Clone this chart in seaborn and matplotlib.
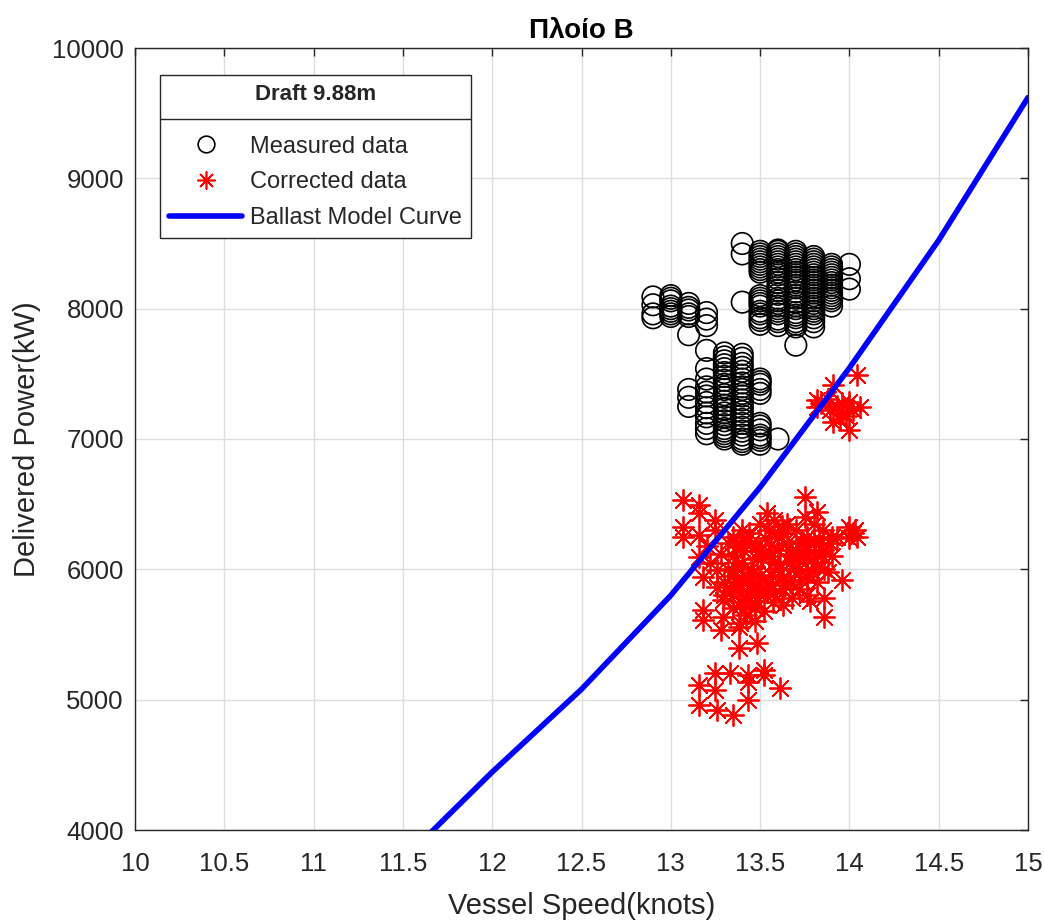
import matplotlib
matplotlib.use("Agg")
import matplotlib.pyplot as plt
from matplotlib.lines import Line2D
import seaborn as sns

# Ballast model curve
model_speed = [11.5, 12.0, 12.5, 13.0, 13.5, 14.0, 14.5, 15.0]
model_power = [3770, 4445, 5080, 5800, 6630, 7545, 8525, 9620]

# Measured data, grouped by speed column
measured_speed = (
    [12.9] * 4 + [13.0] * 5 + [13.1] * 4 + [13.2] * 3
    + [13.4] * 3 + [13.5] * 11 + [13.6] * 14 + [13.7] * 15
    + [13.8] * 14 + [13.9] * 9 + [14.0] * 3
    + [13.1] * 3 + [13.2] * 8 + [13.3] * 13 + [13.4] * 13
    + [13.5] * 9 + [13.6] * 1
    # second pass of the denser columns
    + [13.0] * 3 + [13.1] * 2
    + [13.5] * 8 + [13.6] * 12 + [13.7] * 13 + [13.8] * 12 + [13.9] * 7
    + [13.2] * 5 + [13.3] * 12 + [13.4] * 12 + [13.5] * 3
)
measured_power = (
    [8090, 8030, 7960, 7930]
    + [8100, 8060, 8020, 7980, 7960]
    + [8040, 7990, 7960, 7800]
    + [7970, 7920, 7870]
    + [8500, 8420, 8050]
    + [8440, 8400, 8360, 8320, 8280, 8100, 8060, 8020, 7980, 7930, 7880]
    + [8450, 8420, 8380, 8340, 8300, 8260, 8200, 8140, 8080, 8040, 8000, 7960, 7920, 7870]
    + [8440, 8400, 8360, 8320, 8280, 8240, 8200, 8160, 8100, 8050, 8000, 7950, 7900, 7860, 7720]
    + [8400, 8360, 8320, 8280, 8240, 8200, 8160, 8120, 8080, 8040, 8000, 7960, 7900, 7860]
    + [8340, 8300, 8260, 8220, 8180, 8140, 8100, 8060, 8020]
    + [8340, 8230, 8150]
    + [7380, 7320, 7250]
    + [7680, 7540, 7400, 7330, 7240, 7170, 7080, 7040]
    + [7660, 7600, 7540, 7480, 7420, 7380, 7320, 7260, 7200, 7140, 7080, 7040, 7000]
    + [7650, 7580, 7520, 7460, 7400, 7350, 7300, 7240, 7180, 7120, 7060, 7000, 6960]
    + [7460, 7420, 7380, 7350, 7120, 7070, 7030, 6990, 6960]
    + [7000]
    + [8080, 8000, 7940]
    + [8010, 7940]
    + [8420, 8380, 8340, 8300, 8080, 8040, 7960, 7910]
    + [8440, 8400, 8360, 8320, 8280, 8230, 8170, 8110, 8060, 8020, 7980, 7900]
    + [8420, 8380, 8340, 8300, 8260, 8220, 8180, 8130, 8080, 8020, 7970, 7930, 7880]
    + [8380, 8340, 8300, 8260, 8220, 8180, 8140, 8100, 8060, 8020, 7980, 7930]
    + [8320, 8280, 8240, 8200, 8160, 8120, 8080]
    + [7460, 7360, 7280, 7200, 7120]
    + [7630, 7570, 7510, 7450, 7400, 7340, 7290, 7230, 7170, 7110, 7060, 7020]
    + [7620, 7550, 7490, 7430, 7380, 7330, 7270, 7210, 7150, 7090, 7030, 6980]
    + [7440, 7100, 7010]
)

# Corrected data
corrected_speed = [
    14.04, 13.91, 13.82, 13.82, 13.89, 13.91, 14.00, 14.02, 14.00, 13.96, 13.96, 14.06,
    13.84, 13.88, 13.93, 13.98, 13.95,
    13.07, 13.16, 13.16, 13.07, 13.07, 13.25, 13.25, 13.16, 13.16, 13.18, 13.26, 13.26,
    13.18, 13.18, 13.29, 13.29, 13.39, 13.39, 13.44, 13.20, 13.22, 13.28,
    13.35, 13.35, 13.35, 13.35, 13.35,
    13.40, 13.40, 13.40, 13.40, 13.42,
    13.45, 13.45, 13.45, 13.47, 13.47,
    13.50, 13.50, 13.50, 13.50, 13.52,
    13.55, 13.55, 13.55, 13.57,
    13.60, 13.60, 13.60, 13.62, 13.63,
    13.65, 13.65, 13.67, 13.67,
    13.70, 13.70, 13.72, 13.72,
    13.75, 13.75, 13.76, 13.76, 13.76, 13.76,
    13.80, 13.80, 13.80, 13.82, 13.82,
    13.85, 13.85, 13.86, 13.86, 13.86,
    13.90, 13.90, 13.93, 13.96, 14.00, 14.00, 14.02, 14.04, 14.03,
    13.54, 13.58, 13.62, 13.32, 13.32, 13.30, 13.30,
    13.37, 13.42, 13.48, 13.53, 13.58, 13.63, 13.68, 13.73, 13.78, 13.83,
    13.38, 13.43, 13.48, 13.53, 13.58, 13.63, 13.68, 13.73, 13.78, 13.88,
    13.36, 13.41, 13.46, 13.51, 13.56, 13.61, 13.66, 13.71, 13.76, 13.81,
    13.37, 13.44, 13.49, 13.56, 13.64, 13.69, 13.74, 13.79, 13.84, 13.89,
    13.33, 13.39, 13.44, 13.49, 13.54,
    13.16, 13.16, 13.25, 13.25, 13.26, 13.33, 13.35, 13.43, 13.43, 13.43,
    13.52, 13.52, 13.48, 13.38, 13.61, 13.28, 13.38,
]
corrected_power = [
    7490, 7415, 7300, 7245, 7225, 7130, 7285, 7225, 7070, 7275, 7200, 7245,
    7280, 7310, 7250, 7180, 7150,
    6530, 6495, 6430, 6325, 6250, 6380, 6300, 6265, 6095, 5940, 5995, 5865,
    5690, 5610, 5765, 5635, 5590, 6170, 6280, 6180, 6050, 6120,
    6250, 6100, 5950, 5800, 5700,
    6300, 6050, 5900, 5750, 5650,
    6200, 6000, 5850, 5700, 5600,
    6350, 6150, 5950, 5800, 5680,
    6300, 6100, 5900, 5750,
    6250, 6150, 6000, 5850, 5725,
    6350, 6200, 6050, 5900,
    6300, 6150, 6000, 5850,
    6555, 6400, 6250, 6095, 5950, 5805,
    6350, 6200, 6050, 5900, 6440,
    6300, 6150, 5780, 5635, 6000,
    6250, 6100, 6250, 5920, 6325, 6240, 6280, 6250, 6300,
    6430, 6380, 6330, 6200, 6000, 5900, 5800,
    6180, 6220, 6080, 6240, 6060, 6280, 6120, 6220, 6130, 6230,
    5880, 5930, 5760, 5860, 5820, 5940, 5780, 5920, 5760, 5980,
    6020, 6140, 5980, 6090, 6190, 6040, 6110, 6080, 6180, 6060,
    5900, 5820, 6140, 5960, 5880, 6000, 6200, 5990, 6120, 6200,
    5830, 5720, 5760, 5880, 5840,
    5110, 4960, 5075, 5205, 4920, 5205, 4885, 5000, 5190, 5135,
    5230, 5190, 5435, 5400, 5090, 5535, 5560,
]

x_ticks = [10, 10.5, 11, 11.5, 12, 12.5, 13, 13.5, 14, 14.5, 15]
x_tick_labels = ["10", "10.5", "11", "11.5", "12", "12.5", "13", "13.5", "14", "14.5", "15"]
y_ticks = [4000, 5000, 6000, 7000, 8000, 9000, 10000]

sns.set_theme(style="whitegrid")
plt.rcParams["font.family"] = ["Liberation Sans", "DejaVu Sans"]

fig = plt.figure(figsize=(10.44, 9.22), dpi=100)
ax = fig.add_axes([135 / 1044, 1 - 830 / 922, 893 / 1044, 782 / 922])

star = (8, 2, 0)

meas = sns.scatterplot(x=measured_speed, y=measured_power, marker="o", s=240,
                       color="black", linewidth=1.2, ax=ax, zorder=3)
meas.collections[-1].set_facecolor("none")
meas.collections[-1].set_edgecolor("black")

sns.scatterplot(x=corrected_speed, y=corrected_power, marker=star, s=230,
                color="red", linewidth=1.3, ax=ax, zorder=4)

sns.lineplot(x=model_speed, y=model_power, color="blue", linewidth=4,
             ax=ax, zorder=5, sort=False)

ax.set_xlim(10, 15)
ax.set_ylim(4000, 10000)
ax.set_xticks(x_ticks)
ax.set_xticklabels(x_tick_labels)
ax.set_yticks(y_ticks)
ax.tick_params(axis="both", labelsize=18.5, colors="#262626", direction="in",
               length=6, width=1, top=True, right=True)
ax.tick_params(axis="x", pad=16)
ax.tick_params(axis="y", pad=8)
ax.grid(True, color="#dddddd", linewidth=1)
for sp in ax.spines.values():
    sp.set_color("#262626")
    sp.set_linewidth(1)

ax.set_xlabel("Vessel Speed(knots)", fontsize=21, color="#262626", labelpad=11)
ax.set_ylabel("Delivered Power(kW)", fontsize=21, color="#262626", labelpad=8)
ax.set_title("Πλοίο B", fontsize=20, fontweight="bold", color="black", pad=7)

handles = [
    Line2D([], [], linestyle="none", marker="o", markersize=12,
           markerfacecolor="none", markeredgecolor="black", markeredgewidth=1.2),
    Line2D([], [], linestyle="none", marker=star, markersize=13,
           color="red", markeredgewidth=1.2),
    Line2D([], [], color="blue", linewidth=4),
]
labels = ["Measured data", "Corrected data", "Ballast Model Curve"]
leg = ax.legend(handles, labels, loc="upper left",
                bbox_to_anchor=(25 / 893, 1 - 27 / 782), borderaxespad=0,
                fontsize=17, title="Draft 9.88m",
                title_fontproperties={"weight": "bold", "size": 16},
                frameon=True, fancybox=False, edgecolor="#262626",
                framealpha=1, handlelength=3.1, handletextpad=0.35,
                labelspacing=0.58, borderpad=0.38)
leg.get_frame().set_linewidth(1)
leg.set_zorder(10)
leg._legend_box.sep = 22

# separator line under the legend title
fig.canvas.draw()
lb = leg.get_window_extent()
tb = leg.get_title().get_window_extent()
y_sep = (tb.y0 - 14) / fig.bbox.height
fig.add_artist(Line2D([lb.x0 / fig.bbox.width, lb.x1 / fig.bbox.width],
                      [y_sep, y_sep], color="#262626", linewidth=1, zorder=11))

fig.savefig("out.png", dpi=100)
